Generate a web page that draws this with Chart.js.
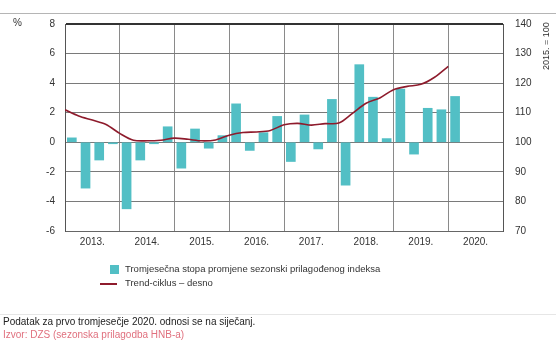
<!DOCTYPE html>
<html>
<head>
<meta charset="utf-8">
<script src="https://cdn.jsdelivr.net/npm/chart.js@4.4.1/dist/chart.umd.min.js"></script>
<style>
  html, body { margin: 0; padding: 0; background: #fff; }
  body { width: 556px; height: 354px; position: relative; overflow: hidden; font-family: "Liberation Sans", Arial, sans-serif; }
  #wrap { position: absolute; left: 0; top: 0; width: 556px; height: 354px; }
  .abs { position: absolute; white-space: nowrap; }
  #topRule { left: 0; top: 13px; width: 556px; height: 1px; background: #b5b5b5; }
  #sepRule { left: 0; top: 314px; width: 556px; height: 1px; background: #e6e6e6; }
  #pct { left: 13px; top: 17px; font-size: 10px; color: #333; }
  #rtitle { left: 541px; top: 70px; font-size: 9px; color: #333; transform-origin: left top; transform: rotate(-90deg); }
  .leg { left: 125px; font-size: 9.5px; color: #333; }
  #sw1 { left: 110px; top: 265px; width: 9px; height: 9px; }
  #sw2 { left: 100px; top: 283px; width: 17px; height: 2px; }
  #foot1 { left: 3px; top: 316px; font-size: 10px; color: #222; }
  #foot2 { left: 3px; top: 329px; font-size: 10px; color: #e0707e; }
</style>
</head>
<body>
<div id="wrap"><canvas id="c" width="556" height="354"></canvas></div>
<div class="abs" id="topRule"></div>
<div class="abs" id="sepRule"></div>
<div class="abs" id="pct">%</div>
<div class="abs" id="rtitle">2015. = 100</div>
<div class="abs" id="sw1"></div>
<div class="abs leg" id="leg1" style="top:263px"></div>
<div class="abs" id="sw2"></div>
<div class="abs leg" id="leg2" style="top:277px"></div>
<div class="abs" id="foot1">Podatak za prvo tromjesečje 2020. odnosi se na siječanj.</div>
<div class="abs" id="foot2">Izvor: DZS (sezonska prilagodba HNB-a)</div>
<script>
// ---- data ----
const years = ['2013.', '2014.', '2015.', '2016.', '2017.', '2018.', '2019.', '2020.'];
const firstYear = 2013;
// quarterly rate of change of seasonally adjusted index, % (2013 Q1 .. 2020 Q1)
const quarterlyChange = [
  0.3, -3.1, -1.2, -0.1,
  -4.5, -1.2, -0.1, 1.05,
  -1.75, 0.9, -0.4, 0.45,
  2.6, -0.55, 0.65, 1.75,
  -1.3, 1.85, -0.45, 2.9,
  -2.9, 5.25, 3.05, 0.25,
  3.6, -0.8, 2.3, 2.2,
  3.1
];
// trend-cycle, index 2015 = 100 (right axis), at start of each quarter 2013 Q1 .. 2020 Q1
const trendCycle = [
  111.0, 108.9, 107.5, 106.0,
  103.0, 100.7, 100.5, 100.7,
  101.4, 101.0, 100.5, 100.8,
  102.4, 103.3, 103.5, 104.0,
  105.9, 106.4, 105.8, 106.3,
  106.5, 109.8, 113.2, 115.0,
  117.8, 118.9, 119.6, 122.0,
  125.7
];
const seriesNames = ['Tromjesečna stopa promjene sezonski prilagođenog indeksa', 'Trend-ciklus – desno'];
const barColor = '#52bfc5';
const lineColor = '#8e1b2c';

document.getElementById('leg1').textContent = seriesNames[0];
document.getElementById('leg2').textContent = seriesNames[1];
document.getElementById('sw1').style.background = barColor;
document.getElementById('sw2').style.background = lineColor;

const barData = quarterlyChange.map((v, i) => ({ x: firstYear + i * 0.25 + 0.125, y: v }));
const lineData = trendCycle.map((v, i) => ({ x: firstYear + i * 0.25, y: v }));

const W = 556, chartLeft = 65, chartRight = 503, chartTop = 24, chartBottom = 231;
const font = { family: '"Liberation Sans", Arial, sans-serif', size: 10 };

new Chart(document.getElementById('c'), {
  data: {
    datasets: [
      { type: 'line', label: seriesNames[1], data: lineData, yAxisID: 'y2', xAxisID: 'x',
        borderColor: lineColor, borderWidth: 1.6, pointRadius: 0, tension: 0.3, fill: false, order: 0 },
      { type: 'bar', label: seriesNames[0], data: barData, yAxisID: 'y', xAxisID: 'x',
        backgroundColor: barColor, borderWidth: 0, barThickness: 9, order: 1 }
    ]
  },
  options: {
    responsive: false,
    animation: false,
    layout: { padding: { left: 0, right: 0, top: chartTop, bottom: 0 } },
    plugins: { legend: { display: false }, tooltip: { enabled: false } },
    scales: {
      x: {
        type: 'linear', min: firstYear, max: firstYear + years.length, offset: false,
        grid: { color: '#8a8a8a', lineWidth: 1, drawTicks: false, offset: false },
        border: { display: true, color: '#666' },
        ticks: {
          stepSize: 1, padding: 5, color: '#333', font: font,
          labelOffset: (chartRight - chartLeft) / years.length / 2,
          callback: (v) => { const i = Math.round(v - firstYear); return i < years.length ? years[i] : ''; }
        },
        afterFit: (s) => { s.height = 354 - chartBottom; }
      },
      y: {
        position: 'left', min: -6, max: 8,
        grid: { color: (ctx) => (ctx.tick && ctx.tick.value === 8 ? '#333' : '#7a7a7a'),
                lineWidth: (ctx) => (ctx.tick && ctx.tick.value === 8 ? 2 : 1), drawTicks: false },
        border: { display: true, color: '#555' },
        ticks: { stepSize: 2, padding: 10, color: '#333', font: font },
        afterFit: (s) => { s.width = chartLeft; }
      },
      y2: {
        position: 'right', min: 70, max: 140,
        grid: { display: false, drawTicks: false },
        border: { display: true, color: '#555' },
        ticks: { stepSize: 10, padding: 12, color: '#333', font: font },
        afterFit: (s) => { s.width = W - chartRight; }
      }
    }
  }
});
</script>
</body>
</html>
